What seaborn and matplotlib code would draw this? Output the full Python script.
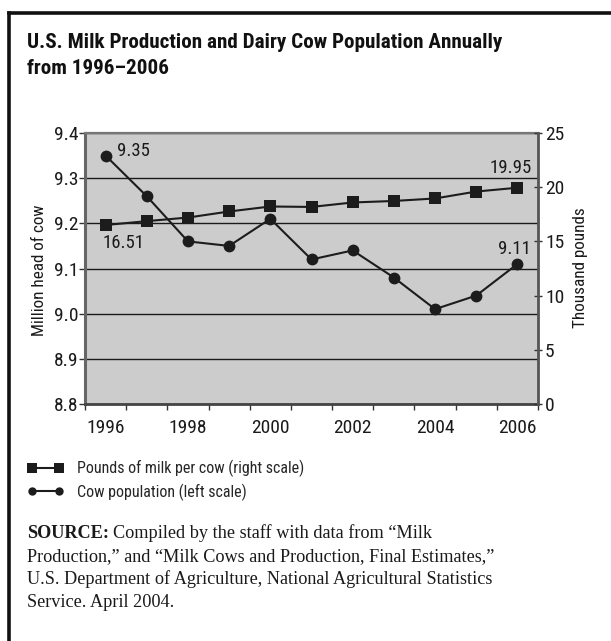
import matplotlib
matplotlib.use("Agg")
import matplotlib.pyplot as plt
from matplotlib import font_manager
from matplotlib.lines import Line2D
import numpy as np
import pandas as pd
import seaborn as sns

years = [1996, 1997, 1998, 1999, 2000, 2001, 2002, 2003, 2004, 2005, 2006]
cow_population = [9.35, 9.26, 9.16, 9.15, 9.21, 9.12, 9.14, 9.08, 9.01, 9.04, 9.11]
milk_per_cow = [16.51, 16.87, 17.20, 17.76, 18.22, 18.18, 18.59, 18.73, 18.96, 19.60, 19.95]
left_ticks = [8.8, 8.9, 9.0, 9.1, 9.2, 9.3, 9.4]
right_ticks = [0, 5, 10, 15, 20, 25]
year_labels = ["1996", "1998", "2000", "2002", "2004", "2006"]

sns.set_style("white")

installed = {f.name for f in font_manager.fontManager.ttflist}
narrow_pref = ["Liberation Sans Narrow", "DejaVu Sans Condensed", "Roboto Condensed",
               "Open Sans Condensed", "Arial Narrow", "Liberation Sans"]
NARROW_NAME = next((n for n in narrow_pref if n in installed), "DejaVu Sans")
NARROW = [NARROW_NAME, "DejaVu Sans"]
SERIF = ["Liberation Serif", "DejaVu Serif"]
plt.rcParams["font.family"] = NARROW

df = pd.DataFrame({"pos": np.arange(len(years)), "cows": cow_population, "milk": milk_per_cow})

W, H = 611, 641
fig = plt.figure(figsize=(W / 100, H / 100), dpi=100)
fig.patch.set_facecolor("white")
renderer = fig.canvas.get_renderer()


def fit_width(txt, target_px, max_size=None):
    """Scale a text's font size so that it spans target_px horizontally."""
    w = txt.get_window_extent(renderer=renderer).width
    size = txt.get_fontsize() * target_px / w
    if max_size is not None:
        size = min(size, max_size)
    txt.set_fontsize(size)
    return size


def fit_height(txt, target_px, max_size=None):
    h = txt.get_window_extent(renderer=renderer).height
    size = txt.get_fontsize() * target_px / h
    if max_size is not None:
        size = min(size, max_size)
    txt.set_fontsize(size)
    return size


# outer frame (open to the right and bottom)
fig.add_artist(Line2D([9 / W, 9 / W], [0, 1 - 13 / H], color="#111111", lw=2.6,
                      transform=fig.transFigure, solid_capstyle="projecting"))
fig.add_artist(Line2D([9 / W, 1.0], [1 - 13 / H, 1 - 13 / H], color="#111111", lw=2.6,
                      transform=fig.transFigure, solid_capstyle="projecting"))

t1 = fig.text(27 / W, 1 - 43 / H, "U.S. Milk Production and Dairy Cow Population Annually",
              fontsize=17, fontweight="black", va="center", ha="left", color="#111111")
title_size = fit_width(t1, 476, max_size=18)
fig.text(27 / W, 1 - 68 / H, "from 1996\u20132006",
         fontsize=title_size, fontweight="black", va="center", ha="left", color="#111111")

left, right, top, bottom = 85, 538, 133, 404
ax = fig.add_axes([left / W, 1 - bottom / H, (right - left) / W, (bottom - top) / H])
ax.set_facecolor("#cccccc")
ax2 = ax.twinx()

line_col = "#1c1c1c"
sns.lineplot(data=df, x="pos", y="cows", ax=ax, color=line_col, lw=1.5,
             marker="o", markersize=8.5, markeredgewidth=0, zorder=3)
sns.lineplot(data=df, x="pos", y="milk", ax=ax2, color=line_col, lw=1.5,
             marker="s", markersize=8.5, markeredgewidth=0, zorder=3)

ax.set_xlim(-0.5, len(years) - 0.5)
ax.set_ylim(left_ticks[0], left_ticks[-1])
ax2.set_ylim(right_ticks[0], right_ticks[-1])

ax.set_yticks(left_ticks)
ax.set_yticklabels([f"{v:.1f}" for v in left_ticks])
ax2.set_yticks(right_ticks)
ax2.set_yticklabels([str(v) for v in right_ticks])
ax.set_xticks(np.arange(0, len(years), 2))
ax.set_xticklabels(year_labels)
ax.set_xticks(np.arange(-0.5, len(years), 1), minor=True)

ax.yaxis.grid(True, color="#1a1a1a", lw=1.0)
ax.set_axisbelow(True)
ax.xaxis.grid(False)
ax2.grid(False)

for a in (ax, ax2):
    for s in a.spines.values():
        s.set_visible(False)
ax.spines["left"].set_visible(True)
ax.spines["left"].set_color("#666666")
ax.spines["left"].set_linewidth(2.2)
ax.spines["bottom"].set_visible(True)
ax.spines["bottom"].set_color("#444444")
ax.spines["bottom"].set_linewidth(2.0)
ax.spines["top"].set_visible(True)
ax.spines["top"].set_color("#777777")
ax.spines["top"].set_linewidth(1.6)
ax2.spines["right"].set_visible(True)
ax2.spines["right"].set_color("#555555")
ax2.spines["right"].set_linewidth(2.0)

tick_size = 14
ax.tick_params(axis="y", which="major", left=True, length=4, width=1, color="#333333",
               labelsize=tick_size, pad=1, labelcolor="#1a1a1a")
ax.tick_params(axis="x", which="major", bottom=False, labelsize=tick_size, pad=7,
               labelcolor="#1a1a1a")
ax.tick_params(axis="x", which="minor", bottom=True, length=4, width=1, color="#333333")
ax2.tick_params(axis="y", right=True, length=6, width=1, color="#333333", direction="inout",
                labelsize=tick_size, pad=2, labelcolor="#1a1a1a")

ax.set_xlabel("")
ax.set_ylabel("")
ax2.set_ylabel("")
yl = fig.text(40 / W, 1 - 270 / H, "Million head of cow", rotation=90, fontsize=12,
              va="center", ha="center", color="#1a1a1a")
lab_size = fit_height(yl, 132, max_size=14)
fig.text(580 / W, 1 - 268 / H, "Thousand pounds", rotation=90, fontsize=lab_size,
         va="center", ha="center", color="#1a1a1a")

# value labels at the first and last points of each series
lab = dict(fontsize=13.5, color="#1a1a1a", textcoords="offset pixels")
ax.annotate(f"{cow_population[0]:.2f}", (0, cow_population[0]), xytext=(11, 5),
            ha="left", va="center", **lab)
ax.annotate(f"{cow_population[-1]:.2f}", (len(years) - 1, cow_population[-1]), xytext=(13, 15),
            ha="right", va="center", **lab)
ax2.annotate(f"{milk_per_cow[0]:.2f}", (0, milk_per_cow[0]), xytext=(-3, -18),
             ha="left", va="center", **lab)
ax2.annotate(f"{milk_per_cow[-1]:.2f}", (len(years) - 1, milk_per_cow[-1]), xytext=(14, 20),
             ha="right", va="center", **lab)

# legend
probe = fig.text(0, 0, "Pounds of milk per cow (right scale)", fontsize=11.5)
leg_size = fit_width(probe, 228, max_size=13)
probe.remove()
handles = [
    Line2D([], [], color=line_col, lw=1.5, marker="s", markersize=6.5, markeredgewidth=0),
    Line2D([], [], color=line_col, lw=1.5, marker="o", markersize=6, markeredgewidth=0),
]
fig.legend(handles, ["Pounds of milk per cow (right scale)", "Cow population (left scale)"],
           loc="upper left", bbox_to_anchor=(27 / W, 1 - 460 / H), numpoints=2,
           handlelength=2.3, handletextpad=0.8, labelspacing=0.4, frameon=False,
           borderpad=0, borderaxespad=0, prop={"family": NARROW, "size": leg_size})

# source note
probe = fig.text(0, 0, "U.S. Department of Agriculture, National Agricultural Statistics",
                 fontsize=12.5, family=SERIF)
src_size = fit_width(probe, 466)
probe.remove()
t0 = fig.text(27 / W, 1 - 533 / H, "SOURCE:", fontsize=src_size, fontweight="bold",
              family=SERIF, va="center", ha="left", color="#1a1a1a")
bb = t0.get_window_extent(renderer=renderer)
fig.text((bb.x1 + 4) / W, 1 - 533 / H,
         "Compiled by the staff with data from \u201cMilk",
         fontsize=src_size, family=SERIF, va="center", ha="left", color="#1a1a1a")
src_lines = [
    "Production,\u201d and \u201cMilk Cows and Production, Final Estimates,\u201d",
    "U.S. Department of Agriculture, National Agricultural Statistics",
    "Service. April 2004.",
]
for i, s in enumerate(src_lines):
    fig.text(27 / W, 1 - (556.5 + 22.8 * i) / H, s, fontsize=src_size, family=SERIF,
             va="center", ha="left", color="#1a1a1a")

fig.savefig("out.png", dpi=100, facecolor="white")
